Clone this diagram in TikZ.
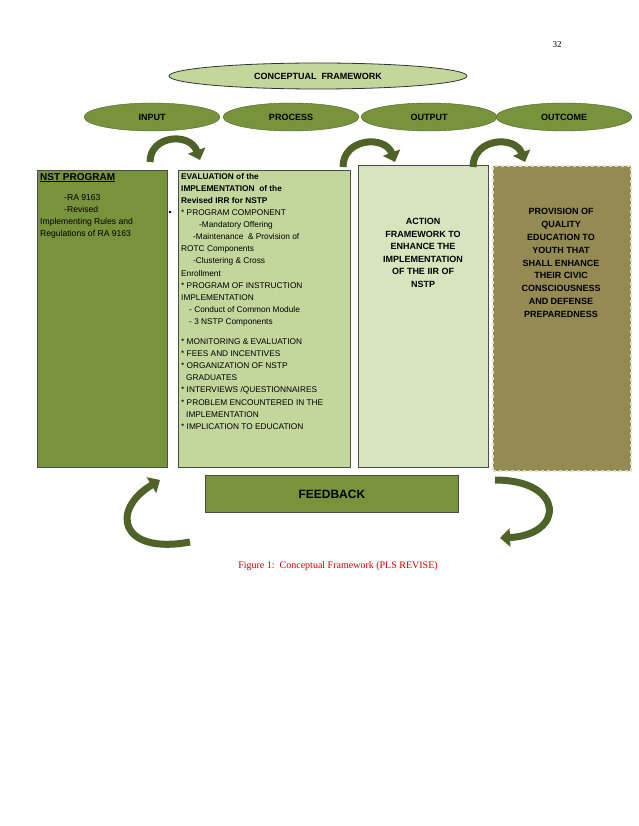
\documentclass[tikz,border=0pt]{standalone}
\usepackage{fontspec}
\setmainfont{Liberation Sans}
\newfontfamily\capfont{Liberation Serif}
\usetikzlibrary{shapes.geometric,arrows.meta}
\definecolor{olive1}{HTML}{77933C}
\definecolor{olive2}{HTML}{C3D69B}
\definecolor{olive3}{HTML}{D7E4BD}
\definecolor{khaki}{HTML}{948A54}
\definecolor{darkol}{HTML}{4F6228}
\tikzset{
  stage/.style={ellipse, draw=darkol, fill=olive1, minimum width=136pt, minimum height=28pt, font=\bfseries\small},
  colbox/.style={draw=black!70, thick, anchor=north west, inner sep=0pt},
  turn/.style={line width=7pt, darkol, -{Triangle[width=18pt,length=10pt]}},
  body/.style={font=\fontsize{8.3}{12.1}\selectfont, align=left, anchor=north west, inner sep=3pt}
}
\begin{document}
\begin{tikzpicture}[x=1pt,y=-1pt]
  \useasboundingbox[fill=white] (0,0) rectangle (638,826);

  % Page number
  \node[font=\capfont\small] (page) at (557,45) {32};

  % Titles
  \node[ellipse, draw=black!80, thick, fill=olive2, minimum width=298pt, minimum height=26pt, font=\bfseries\small] (title) at (318,76) {CONCEPTUAL\ \ FRAMEWORK};
  \node[stage] (input) at (152,117) {INPUT};
  \node[stage] (process) at (291,117) {PROCESS};
  \node[stage] (output) at (429,117) {OUTPUT};
  \node[stage] (outcome) at (564,117) {OUTCOME};

  % Columns
  \node[colbox, fill=olive1, minimum width=130pt, minimum height=297pt] (nst) at (37,170) {};
  \node[colbox, fill=olive2, minimum width=172pt, minimum height=297pt] (eval) at (178,170) {};
  \node[colbox, fill=olive3, minimum width=130pt, minimum height=302pt] (act) at (358,165) {};
  \node[colbox, fill=khaki, draw=olive3, dashed, line width=2pt, minimum width=138pt, minimum height=305pt] (prov) at (492,165) {};

  \node[body, font=\fontsize{8.6}{12.2}\selectfont] (nsttxt) at (nst.north west) {%
    \normalsize\bfseries\underline{NST PROGRAM}\\[8pt]
    \hspace*{24pt}-RA 9163\\
    \hspace*{24pt}-Revised\\
    Implementing Rules and\\
    Regulations of RA 9163};
  \node[body] (evaltxt) at (eval.north west) {%
    \textbf{EVALUATION of the}\\
    \textbf{IMPLEMENTATION\ \ of the}\\
    \textbf{Revised IRR for NSTP}\\
    * PROGRAM COMPONENT\\
    \hspace*{18pt}-Mandatory Offering\\
    \hspace*{12pt}-Maintenance\ \ \& Provision of\\
    ROTC Components\\
    \hspace*{12pt}-Clustering \& Cross\\
    Enrollment\\
    * PROGRAM OF INSTRUCTION\\
    IMPLEMENTATION\\
    \hspace*{8pt}- Conduct of Common Module\\
    \hspace*{8pt}- 3 NSTP Components\\[8pt]
    * MONITORING \& EVALUATION\\
    * FEES AND INCENTIVES\\
    * ORGANIZATION OF NSTP\\
    \hspace*{5pt}GRADUATES\\
    * INTERVIEWS /QUESTIONNAIRES\\
    * PROBLEM ENCOUNTERED IN THE\\
    \hspace*{5pt}IMPLEMENTATION\\
    * IMPLICATION TO EDUCATION};
  \node[font=\bfseries\fontsize{9}{12.5}\selectfont, align=center] (acttxt) at (423,253) {ACTION\\FRAMEWORK TO\\ENHANCE THE\\IMPLEMENTATION\\OF THE IIR OF\\NSTP};
  \node[font=\bfseries\fontsize{9}{12.8}\selectfont, align=center] (provtxt) at (561,263) {PROVISION OF\\QUALITY\\EDUCATION TO\\YOUTH THAT\\SHALL ENHANCE\\THEIR CIVIC\\CONSCIOUSNESS\\AND DEFENSE\\PREPAREDNESS};
  \fill (170,212) circle (1.3pt);

  % Feedback
  \node[colbox, fill=olive1, minimum width=253pt, minimum height=37pt] (feed) at (205,475) {};
  \node[font=\bfseries\large] (feedtxt) at (feed.center) {FEEDBACK};

  % Curved arrows
  \draw[turn] (150,162) .. controls (150,135) and (190,132) .. (200,160);
  \draw[turn] (343,167) .. controls (343,138) and (385,135) .. (395,162);
  \draw[turn] (473,167) .. controls (473,138) and (515,135) .. (525,162);
  \draw[turn] (190,542) .. controls (120,555) and (110,510) .. (160,480);
  \draw[turn] (495,480) .. controls (565,480) and (565,535) .. (500,538);

  % Caption
  \node[font=\capfont, text=red!80!black] (cap) at (338,566) {Figure 1:\ \ Conceptual Framework (PLS REVISE)};
\end{tikzpicture}
\end{document}
